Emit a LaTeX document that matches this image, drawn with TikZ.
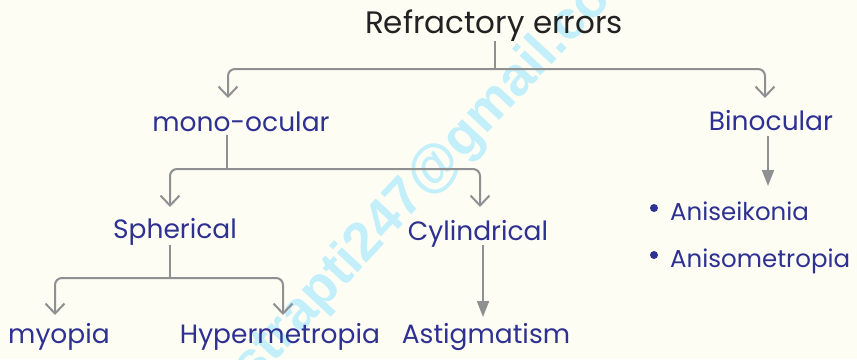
\documentclass[tikz,border=0pt]{standalone}
\usepackage{fontspec}
\setmainfont{Poppins}
\newfontfamily\markfont{Liberation Sans}
\usetikzlibrary{arrows.meta}
\definecolor{paper}{HTML}{FDFDF4}
\definecolor{ink}{HTML}{2E3192}
\definecolor{headink}{HTML}{222222}
\definecolor{wire}{HTML}{8E9092}
\definecolor{stamp}{HTML}{C2EFFA}
\tikzset{
  label/.style={anchor=base, inner sep=0pt, text=ink, font=\fontsize{26.5}{30}\selectfont},
  item/.style={label, anchor=base west, font=\fontsize{24.5}{28}\selectfont},
  stem/.style={draw=wire, line width=2pt},
  branch/.style={stem, rounded corners=7pt, -{Straight Barb[length=10pt,width=19pt]}},
  pointer/.style={stem, -{Triangle[length=16pt,width=12pt]}},
  dot/.style={circle, fill=ink, inner sep=0pt, minimum size=8pt},
}
\begin{document}
\begin{tikzpicture}[x=1pt,y=-1pt]
\fill[paper] (0,0) rectangle (857,359);
\useasboundingbox (0,0) rectangle (857,359);

% faint e-mail stamp across the sheet
\begin{scope}
  \clip (0,0) rectangle (857,359);
  \node[rotate=47, text=stamp, inner sep=0pt, font=\markfont\bfseries\fontsize{54}{58}\selectfont] (stampmark) at (434,171) {istrapti247@gmail.com};
\end{scope}

% headings
\node[label, text=headink, font=\fontsize{31}{34}\selectfont] (title) at (494,33) {Refractory errors};
\node[label] (mono)  at (241,131) {mono-ocular};
\node[label] (bino)  at (771,130) {Binocular};
\node[label] (sph)   at (175,238) {Spherical};
\node[label] (cyl)   at (478,240) {Cylindrical};
\node[label] (myo)   at (59,343)  {myopia};
\node[label] (hyper) at (280,343) {Hypermetropia};
\node[label] (astig) at (486,343) {Astigmatism};

% binocular list
\node[dot] (b1) at (654,208) {};
\node[dot] (b2) at (654,255) {};
\node[item] (anisei) at (670,220) {Aniseikonia};
\node[item] (anisom) at (670,267) {Anisometropia};

% junctions and arrow tips
\coordinate (j1) at (495,69);
\coordinate (j2) at (227,169);
\coordinate (j3) at (170,278);
\coordinate (tMono) at (228,98);
\coordinate (tBino) at (765,98);
\coordinate (tSph)  at (170,207);
\coordinate (tCyl)  at (480,207);
\coordinate (tMyo)  at (55,315);
\coordinate (tHyp)  at (283,315);
\coordinate (tAst)  at (483,317);
\coordinate (tList) at (768,186);

% tree connectors
\draw[stem] (title.base) ++(1,8) -- (j1);
\draw[branch] (j1) -| (tMono);
\draw[branch] (j1) -| (tBino);

\draw[stem] (mono.base) ++(-14,4) -- (j2);
\draw[branch] (j2) -| (tSph);
\draw[branch] (j2) -| (tCyl);

\draw[stem] (sph.base) ++(-5,7) -- (j3);
\draw[branch] (j3) -| (tMyo);
\draw[branch] (j3) -| (tHyp);

\draw[pointer] (cyl.base) ++(5,5) -- (tAst);
\draw[pointer] (bino.base) ++(-3,6) -- (tList);
\end{tikzpicture}
\end{document}
